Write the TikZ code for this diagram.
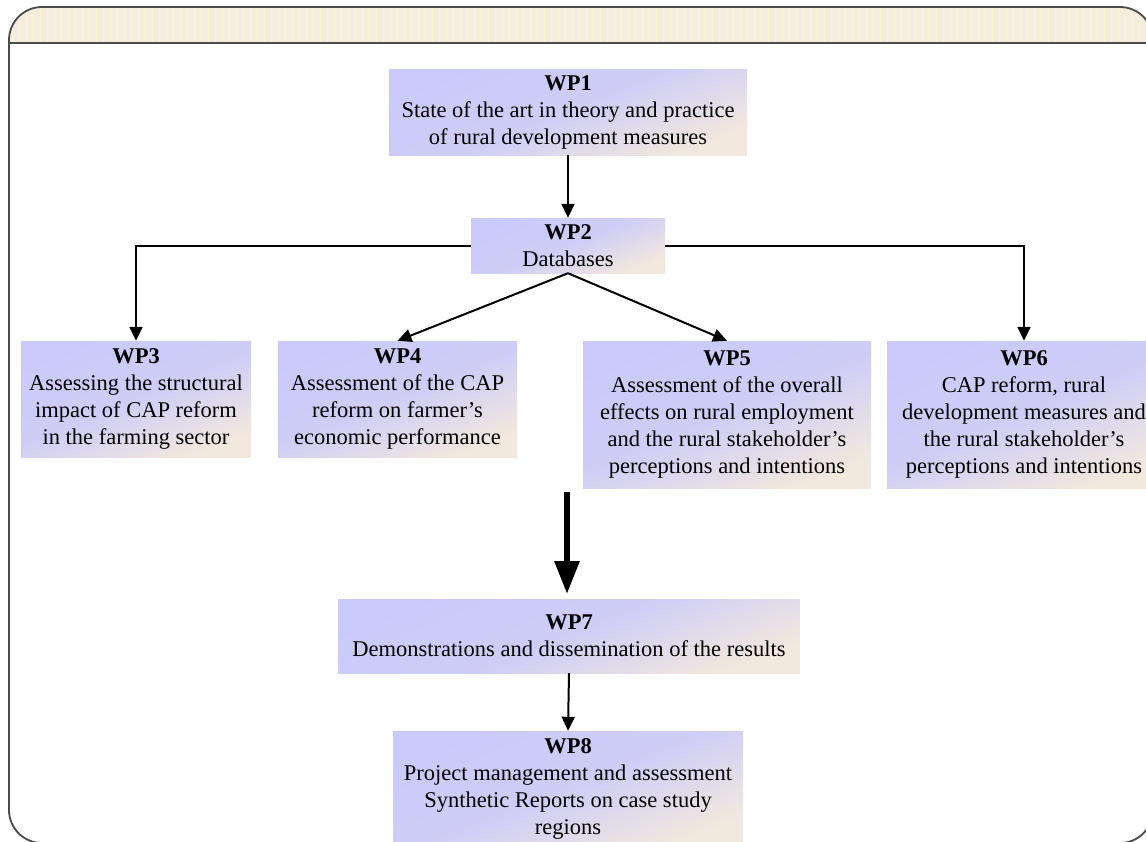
\documentclass[tikz,border=0pt]{standalone}
\usepackage{fontspec}
\setmainfont{Liberation Serif}
\usetikzlibrary{arrows.meta}
\definecolor{wpA}{HTML}{CACAFA}
\definecolor{wpB}{HTML}{F2E8DE}
\definecolor{hdr}{HTML}{F3ECDF}
\definecolor{hdrstripe}{HTML}{FBF6C8}
\definecolor{framecol}{HTML}{4A4A4A}
\tikzset{
  wpbox/.style={rectangle, inner sep=0pt, align=center,
    font=\fontsize{22.5}{27}\selectfont,
    top color=wpA, bottom color=wpB, middle color=wpA!88!wpB, shading angle=22},
  conn/.style={line width=2pt, -{Triangle[length=14pt,width=13pt]}},
  bigconn/.style={line width=6pt, -{Triangle[length=33pt,width=24pt]}},
  frameline/.style={draw=framecol, line width=1.8pt}
}
\begin{document}
\begin{tikzpicture}[x=1pt,y=-1pt]
\useasboundingbox (0,0) rectangle (1146,841);
% frame and header band
\begin{scope}
  \clip[rounded corners=33pt] (9,7) rectangle (1153,843);
  \fill[hdr] (9,7) rectangle (1153,43);
  \foreach \i in {12,19,...,1150} \draw[hdrstripe, line width=1pt] (\i,7) -- (\i,43);
\end{scope}
\draw[frameline, rounded corners=33pt] (9,7) rectangle (1153,843);
\draw[frameline] (9,43) -- (1153,43);

% boxes
\node[wpbox, minimum width=358pt, minimum height=86pt] (wp1) at (568,112)
  {\textbf{WP1}\\State of the art in theory and practice\\of rural development measures};
\node[wpbox, minimum width=194pt, minimum height=55pt] (wp2) at (568,245.5)
  {\textbf{WP2}\\Databases};
\node[wpbox, minimum width=230pt, minimum height=116pt] (wp3) at (136,399)
  {\textbf{WP3}\\Assessing the structural\\impact of CAP reform\\in the farming sector};
\node[wpbox, minimum width=239pt, minimum height=116pt] (wp4) at (397.5,399)
  {\textbf{WP4}\\Assessment of the CAP\\reform on farmer’s\\economic performance};
\node[wpbox, minimum width=288pt, minimum height=147pt] (wp5) at (727,414.5)
  {\textbf{WP5}\\Assessment of the overall\\effects on rural employment\\and the rural stakeholder’s\\perceptions and intentions};
\node[wpbox, minimum width=274pt, minimum height=147pt] (wp6) at (1024,414.5)
  {\textbf{WP6}\\CAP reform, rural\\development measures and\\the rural stakeholder’s\\perceptions and intentions};
\node[wpbox, minimum width=462pt, minimum height=74pt] (wp7) at (569,636)
  {\textbf{WP7}\\Demonstrations and dissemination of the results};
\node[wpbox, minimum width=350pt, minimum height=116pt] (wp8) at (568,789)
  {\textbf{WP8}\\Project management and assessment\\Synthetic Reports on case study\\regions};

% connectors
\draw[conn] (wp1.south) -- (wp2.north);
\draw[conn] (wp2.west) -| (wp3.north);
\draw[conn] (wp2.east) -| (wp6.north);
\draw[conn] (wp2.south) -- (wp4.north);
\draw[conn] (wp2.south) -- (wp5.north);
\coordinate (bigstart) at (567,492);
\coordinate (bigend) at (567,594);
\draw[bigconn] (bigstart) -- (bigend);
\draw[conn] (wp7.south) -- (wp8.north);
\end{tikzpicture}
\end{document}
